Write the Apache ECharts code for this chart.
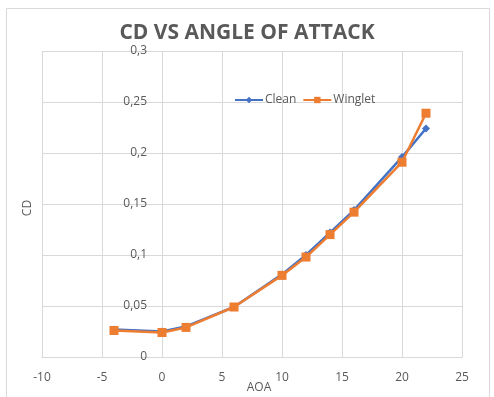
<!DOCTYPE html>
<html>
<head>
<meta charset="utf-8">
<script src="https://cdn.jsdelivr.net/npm/echarts@6/dist/echarts.min.js"></script>
<style>
  html, body { margin: 0; padding: 0; background: #fff; }
  #chart { width: 494px; height: 397px; }
</style>
</head>
<body>
<div id="chart"></div>
<script>
// Angle of attack (degrees)
const aoa = [-4, 0, 2, 6, 10, 12, 14, 16, 20, 22];
// Drag coefficient, clean wing
const cleanCd = [0.027, 0.025, 0.030, 0.049, 0.081, 0.100, 0.122, 0.144, 0.196, 0.224];
// Drag coefficient, wing with winglet
const wingletCd = [0.026, 0.024, 0.029, 0.049, 0.080, 0.098, 0.120, 0.142, 0.191, 0.239];

const textColor = '#595959';
const gridColor = '#d9d9d9';
const font = 'Open Sans';

const pairs = (xs, ys) => xs.map((x, i) => [x, ys[i]]);

const chart = echarts.init(document.getElementById('chart'), null, { renderer: 'canvas' });
chart.setOption({
  animation: false,
  backgroundColor: '#fff',
  textStyle: { fontFamily: font },
  graphic: [{
    type: 'rect',
    shape: { x: 6.5, y: 8.5, width: 483, height: 395 },
    style: { fill: 'none', stroke: gridColor, lineWidth: 1 },
    silent: true
  }],
  title: {
    text: 'CD VS ANGLE OF ATTACK',
    left: 'center',
    top: 18,
    textStyle: { fontFamily: font, fontSize: 21, fontWeight: 'bold', color: textColor }
  },
  legend: {
    top: 89,
    left: 229,
    itemWidth: 28,
    itemHeight: 8,
    itemGap: 6,
    textStyle: { fontFamily: font, fontSize: 12, color: textColor, padding: [0, 0, 0, -3] },
    data: ['Clean', 'Winglet']
  },
  grid: { left: 42, right: 32, top: 51, bottom: 40, containLabel: false, outerBoundsMode: 'none' },
  xAxis: {
    type: 'value',
    min: -10, max: 25, interval: 5,
    name: 'AOA',
    nameLocation: 'middle',
    nameGap: 25,
    nameMoveOverlap: false,
    nameTextStyle: { fontFamily: font, fontSize: 12, color: textColor, padding: [0, 0, 0, 14] },
    axisLine: { show: true, onZero: false, lineStyle: { color: gridColor } },
    axisTick: { show: false },
    axisLabel: { margin: 15, fontSize: 12, color: textColor, fontFamily: font },
    splitLine: { show: true, lineStyle: { color: gridColor, width: 1 } }
  },
  yAxis: {
    type: 'value',
    min: 0, max: 0.3, interval: 0.05,
    name: 'CD',
    nameLocation: 'middle',
    nameGap: 8,
    nameMoveOverlap: false,
    nameTextStyle: { fontFamily: font, fontSize: 12, color: textColor, padding: [0, 8, 0, 0] },
    axisLine: { show: false },
    axisTick: { show: false },
    // labels sit beside the AOA = 0 line, to the right of the plot's left edge
    axisLabel: {
      margin: -105, align: 'right', fontSize: 12, color: textColor, fontFamily: font,
      formatter: v => String(+v.toFixed(2)).replace('.', ',')
    },
    splitLine: { show: true, lineStyle: { color: gridColor, width: 1 } }
  },
  series: [
    {
      name: 'Clean',
      type: 'line',
      data: pairs(aoa, cleanCd),
      symbol: 'diamond',
      symbolSize: 8,
      lineStyle: { color: '#4472C4', width: 2.5 },
      itemStyle: { color: '#4472C4' },
      z: 2
    },
    {
      name: 'Winglet',
      type: 'line',
      data: pairs(aoa, wingletCd),
      symbol: 'rect',
      symbolSize: 9,
      lineStyle: { color: '#ED7D31', width: 2.5 },
      itemStyle: { color: '#ED7D31' },
      z: 3
    }
  ]
});
</script>
</body>
</html>
